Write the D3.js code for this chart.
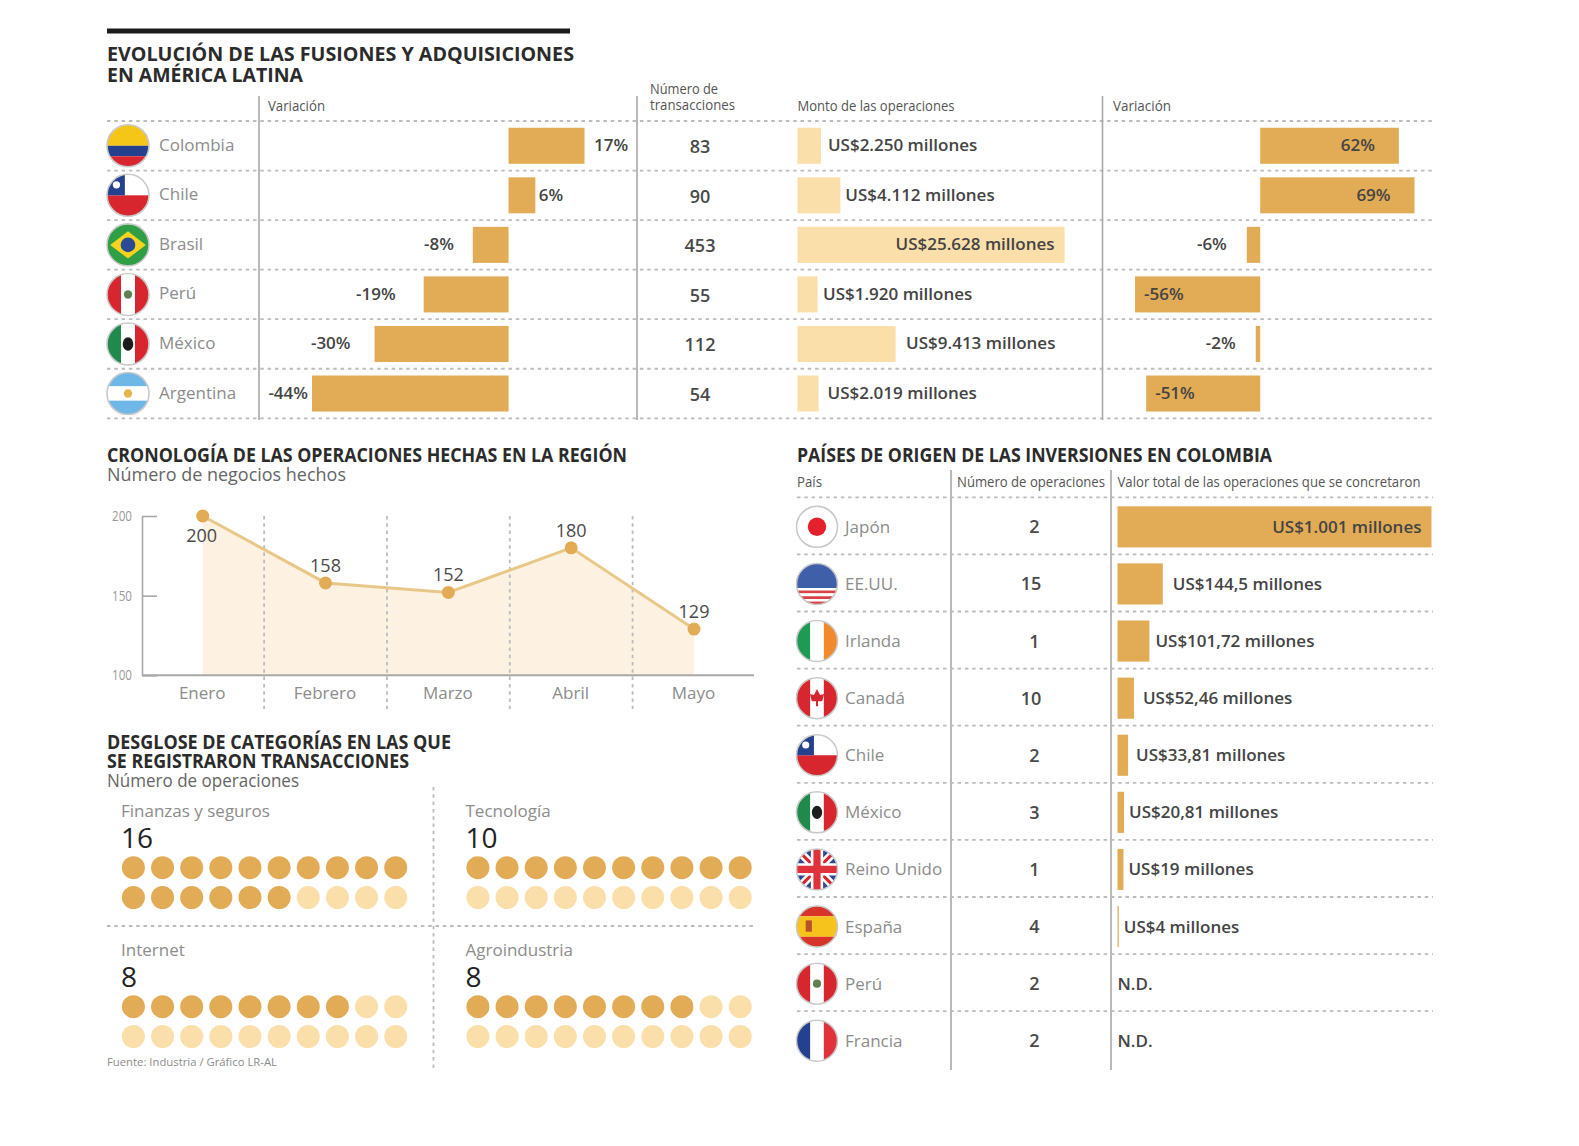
<!DOCTYPE html>
<html>
<head>
<meta charset="utf-8">
<script src="https://cdn.jsdelivr.net/npm/d3@7"></script>
<style>
body { margin: 0; background: #fff; }
svg { display: block; font-family: "Open Sans", sans-serif; }
.title { font-weight: 700; font-size: 19px; fill: #2b2b2b; }
.sub { font-size: 18px; fill: #666; }
.head { font-size: 15px; fill: #555; }
.name { font-size: 17px; fill: #8c8c8c; }
.big { font-size: 28px; fill: #222; }
.val { font-size: 17px; fill: #444; font-weight: 600; }
.num { font-size: 18px; fill: #4a4a4a; font-weight: 600; }
.grid { stroke: #bcbcbc; stroke-width: 1.8; stroke-dasharray: 3.5 3.8; fill: none; }
.rule { stroke: #a8a8a8; stroke-width: 1.6; }
</style>
</head>
<body>
<div id="viz"></div>
<script>
// Evolucion en America Latina
const paises = ['Colombia', 'Chile', 'Brasil', 'Perú', 'México', 'Argentina']
const variacionNegocios = [17, 6, -8, -19, -30, -44]
const transacciones = [83, 90, 453, 55, 112, 54]
const montos = [2250, 4112, 25628, 1920, 9413, 2019]
const variacionMontos = [62, 69, -6, -56, -2, -51]

// Cronologia
const meses = ['Enero', 'Febrero', 'Marzo', 'Abril', 'Mayo']
const negocios = [200, 158, 152, 180, 129]
const negociosTicks = [100, 150, 200]

// Categorias
const categorias = ['Finanzas y seguros', 'Tecnología', 'Internet', 'Agroindustria']
const operacionesCategoria = [16, 10, 8, 8]

// Paises de origen
const origenes = ['Japón', 'EE.UU.', 'Irlanda', 'Canadá', 'Chile', 'México', 'Reino Unido', 'España', 'Perú', 'Francia']
const operacionesOrigen = [2, 15, 1, 10, 2, 3, 1, 4, 2, 2]
const valorOrigen = [1001, 144.5, 101.72, 52.46, 33.81, 20.81, 19, 4, null, null]

const w = 1579, h = 1146
const gold = '#e2ab55', pale = '#fbdfaa'

const es = d3.formatLocale({ decimal: ',', thousands: '.', grouping: [3], currency: ['US$', ''] })
const fmt = es.format(',')
const usd = d => `US$${fmt(d)} millones`

const svg = d3.select('#viz')
    .append('svg')
    .attr('width', w)
    .attr('height', h)
    .attr('viewBox', [0, 0, w, h])

// text helper, width squeezes the text to the size it has in the original
const txt = (g, x, y, s, cls, width, anchor) => {
    const t = g.append('text')
        .attr('x', x)
        .attr('y', y)
        .attr('class', cls)
        .attr('text-anchor', anchor || 'start')
        .text(s)
    if (width) t.attr('textLength', width).attr('lengthAdjust', 'spacingAndGlyphs')
    return t
}
// several tight lines in one text element, lines = [string, class, y, width]
const block = (g, x, lines) => {
    const t = g.append('text')
    lines.forEach(([s, cls, y, width]) => {
        const sp = t.append('tspan').attr('x', x).attr('y', y).attr('class', cls).text(s)
        if (width) sp.attr('textLength', width).attr('lengthAdjust', 'spacingAndGlyphs')
    })
    return t
}
const hLine = (x1, x2, y) => svg.append('line').attr('class', 'grid')
    .attr('x1', x1).attr('x2', x2).attr('y1', y).attr('y2', y)
const vLine = (x, y1, y2, cls) => svg.append('line').attr('class', cls || 'rule')
    .attr('x1', x).attr('x2', x).attr('y1', y1).attr('y2', y2)

// flags are drawn in a 40x40 box centered on 0,0
const stripesH = (g, list) => {
    let y = -20
    list.forEach(([c, f]) => {
        g.append('rect').attr('x', -20).attr('y', y).attr('width', 40).attr('height', 40 * f).attr('fill', c)
        y += 40 * f
    })
}
const stripesV = (g, list) => list.forEach((c, i) => {
    g.append('rect').attr('x', -20 + i * 40 / 3).attr('y', -20).attr('width', 40 / 3 + .5).attr('height', 40).attr('fill', c)
})
const flags = {
    'Colombia': g => stripesH(g, [['#f5c518', .5], ['#24408e', .25], ['#d7262d', .25]]),
    'Chile': g => {
        stripesH(g, [['#fff', .5], ['#d8262e', .5]])
        g.append('rect').attr('x', -20).attr('y', -20).attr('width', 17).attr('height', 20).attr('fill', '#24408e')
        g.append('circle').attr('cx', -11).attr('cy', -10).attr('r', 3.5).attr('fill', '#fff')
    },
    'Brasil': g => {
        stripesH(g, [['#2f9e44', 1]])
        g.append('path').attr('d', 'M-17,0L0,-13L17,0L0,13Z').attr('fill', '#f6d31f')
        g.append('circle').attr('r', 7).attr('fill', '#2a4a94')
    },
    'Perú': g => {
        stripesV(g, ['#d8262e', '#fff', '#d8262e'])
        g.append('circle').attr('r', 4).attr('fill', '#5f7f54')
    },
    'México': g => {
        stripesV(g, ['#1f8a4c', '#fff', '#d8262e'])
        g.append('ellipse').attr('rx', 5).attr('ry', 6.5).attr('fill', '#1c1c1c')
    },
    'Argentina': g => {
        stripesH(g, [['#6fb7e6', .33], ['#fff', .34], ['#6fb7e6', .33]])
        g.append('circle').attr('r', 4).attr('fill', '#e8b64c')
    },
    'Japón': g => {
        stripesH(g, [['#fff', 1]])
        g.append('circle').attr('r', 9).attr('fill', '#e3202c')
    },
    'EE.UU.': g => stripesH(g, [['#3f5fa8', .6], ['#fff', .06], ['#d8434a', .07], ['#fff', .07], ['#d8434a', .07], ['#fff', .06], ['#d8434a', .07]]),
    'Irlanda': g => stripesV(g, ['#1f9a55', '#fff', '#f08a2c']),
    'Canadá': g => {
        stripesV(g, ['#d8262e', '#fff', '#d8262e'])
        g.append('path').attr('d', 'M0,-9L3,-3L7,-4L5,3L1,3L1,8L-1,8L-1,3L-5,3L-7,-4L-3,-3Z').attr('fill', '#d8262e')
    },
    'Reino Unido': g => {
        stripesH(g, [['#2b478f', 1]])
        g.append('path').attr('d', 'M-20,-20L20,20M20,-20L-20,20').attr('stroke', '#fff').attr('stroke-width', 8)
        g.append('path').attr('d', 'M-20,-20L20,20M20,-20L-20,20').attr('stroke', '#d8262e').attr('stroke-width', 3)
        g.append('path').attr('d', 'M0,-20V20M-20,0H20').attr('stroke', '#fff').attr('stroke-width', 12)
        g.append('path').attr('d', 'M0,-20V20M-20,0H20').attr('stroke', '#e0323a').attr('stroke-width', 7)
    },
    'España': g => {
        stripesH(g, [['#d8352a', .25], ['#f6c21c', .5], ['#d8352a', .25]])
        g.append('rect').attr('x', -11).attr('y', -6).attr('width', 6).attr('height', 11).attr('fill', '#b8502c')
    },
    'Francia': g => stripesV(g, ['#24408e', '#fff', '#e0323a'])
}
const drawFlag = (id, name, cx, cy, r) => {
    svg.append('clipPath').attr('id', id).append('circle').attr('r', 20)
    const outer = svg.append('g').attr('transform', `translate(${cx}, ${cy}) scale(${r / 20})`)
    const g = outer.append('g').attr('clip-path', `url(#${id})`)
    flags[name](g)
    outer.append('circle').attr('r', 20).attr('fill', 'none').attr('stroke', '#c9c9c9').attr('stroke-width', 1.5)
}

// ---- evolucion ----
svg.append('rect').attr('x', 107).attr('y', 28.5).attr('width', 463).attr('height', 5).attr('fill', '#1c1c1c')
block(svg, 107, [
    ['EVOLUCIÓN DE LAS FUSIONES Y ADQUISICIONES', 'title', 61, 467],
    ['EN AMÉRICA LATINA', 'title', 82, 196]
])

const yTop = d3.scaleBand()
    .domain(paises)
    .range([121, 418.3])
    .paddingInner(.273)
    .paddingOuter(.1365)
const rowTop = i => 121 + i * yTop.step()
d3.range(7).forEach(i => hLine(107, 1432, rowTop(i)))
;[259, 637, 1102.5].forEach(x => vLine(x, 96, 420))

txt(svg, 268, 111, 'Variación', 'head', 57)
block(svg, 650, [
    ['Número de', 'head', 94, 68],
    ['transacciones', 'head', 110, 85]
])
txt(svg, 797.5, 111, 'Monto de las operaciones', 'head', 157)
txt(svg, 1113, 111, 'Variación', 'head', 58)

paises.forEach((p, i) => {
    const cy = yTop(p) + yTop.bandwidth() / 2
    drawFlag(`top${i}`, p, 128, cy, 21)
    txt(svg, 159, cy + 5, p, 'name')
    txt(svg, 700, cy + 7.5, transacciones[i], 'num', null, 'middle')
})

// variacion negocios
const xVar = d3.scaleLinear().domain([-44, 17]).range([312, 584.5])
const varGap = [9.5, 3.5, 19, 28, 24, 4]
svg.append('g').selectAll('rect').data(variacionNegocios).join('rect')
    .attr('x', d => Math.min(xVar(0), xVar(d)))
    .attr('y', (d, i) => yTop(paises[i]))
    .attr('width', d => Math.abs(xVar(d) - xVar(0)))
    .attr('height', yTop.bandwidth())
    .attr('fill', gold)
variacionNegocios.forEach((d, i) => {
    const cy = yTop(paises[i]) + yTop.bandwidth() / 2
    txt(svg, xVar(d) + (d > 0 ? varGap[i] : -varGap[i]), cy + 5.5, `${d}%`, 'val', null, d > 0 ? 'start' : 'end')
})

// monto
const xMonto = d3.scaleLinear().domain([0, 25628]).range([797.5, 1064.6])
const montoGap = [7, 5, null, 5.5, 10.5, 9]
svg.append('g').selectAll('rect').data(montos).join('rect')
    .attr('x', xMonto(0))
    .attr('y', (d, i) => yTop(paises[i]))
    .attr('width', d => xMonto(d) - xMonto(0))
    .attr('height', yTop.bandwidth())
    .attr('fill', pale)
montos.forEach((d, i) => {
    const cy = yTop(paises[i]) + yTop.bandwidth() / 2
    if (montoGap[i] === null) txt(svg, xMonto(d) - 10, cy + 5.5, usd(d), 'val', null, 'end')
    else txt(svg, xMonto(d) + montoGap[i], cy + 5.5, usd(d), 'val')
})

// variacion montos
const xVar2 = d3.scaleLinear().domain([-56, 69]).range([1135, 1414.5])
svg.append('g').selectAll('rect').data(variacionMontos).join('rect')
    .attr('x', d => Math.min(xVar2(0), xVar2(d)))
    .attr('y', (d, i) => yTop(paises[i]))
    .attr('width', d => Math.abs(xVar2(d) - xVar2(0)))
    .attr('height', yTop.bandwidth())
    .attr('fill', gold)
variacionMontos.forEach((d, i) => {
    const cy = yTop(paises[i]) + yTop.bandwidth() / 2
    if (d > 0) txt(svg, xVar2(d) - 24, cy + 5.5, `${d}%`, 'val', null, 'end')
    else if (d < -40) txt(svg, xVar2(d) + 9, cy + 5.5, `${d}%`, 'val')
    else txt(svg, xVar2(d) - 20, cy + 5.5, `${d}%`, 'val', null, 'end')
})

// ---- cronologia ----
block(svg, 107, [
    ['CRONOLOGÍA DE LAS OPERACIONES HECHAS EN LA REGIÓN', 'title', 462, 520],
    ['Número de negocios hechos', 'sub', 481, 239]
])

const x = d3.scalePoint().domain(meses).range([202.7, 694])
const y = d3.scaleLinear().domain([100, 200]).range([675.3, 516])

const area = d3.area().x((d, i) => x(meses[i])).y0(y(100)).y1(d => y(d))
const line = d3.line().x((d, i) => x(meses[i])).y(d => y(d))

svg.append('path').datum(negocios).attr('d', area).attr('fill', '#fdf1e1')

meses.slice(0, -1).forEach(m => vLine(x(m) + x.step() / 2, 516, 709, 'grid'))

const yAxisG = svg.append('g')
    .attr('transform', 'translate(142, 0)')
    .call(d3.axisLeft(y).tickValues(negociosTicks).tickSizeInner(-15).tickSizeOuter(0).tickPadding(10))
yAxisG.select('.domain').attr('stroke', '#a8a8a8').attr('stroke-width', 1.6)
yAxisG.selectAll('line').attr('stroke', '#a8a8a8').attr('stroke-width', 1.6)
yAxisG.selectAll('text').attr('fill', '#999').style('font-size', '14px').style('font-family', '"Open Sans"').attr('textLength', 20).attr('lengthAdjust', 'spacingAndGlyphs')

const xAxisG = svg.append('g')
    .attr('transform', `translate(-1, ${y(100)})`)
    .call(d3.axisBottom(x).tickSize(0).tickPadding(12))
xAxisG.select('.domain').remove()
xAxisG.selectAll('text').attr('fill', '#8c8c8c').style('font-size', '17px').style('font-family', '"Open Sans"')
svg.append('line').attr('x1', 142).attr('x2', 754).attr('y1', y(100)).attr('y2', y(100))
    .attr('stroke', '#a8a8a8').attr('stroke-width', 2)

svg.append('path').datum(negocios).attr('d', line).attr('fill', 'none').attr('stroke', '#e7c888').attr('stroke-width', 3)
svg.append('g').selectAll('circle').data(negocios).join('circle')
    .attr('cx', (d, i) => x(meses[i]))
    .attr('cy', d => y(d))
    .attr('r', 6.5)
    .attr('fill', gold)
negocios.forEach((d, i) => {
    const off = i === 0 ? 26 : -11
    txt(svg, x(meses[i]) - (i === 0 ? 1 : 0), y(d) + off, d, 'sub', null, 'middle').style('fill', '#4a4a4a')
})

// ---- categorias ----
block(svg, 107, [
    ['DESGLOSE DE CATEGORÍAS EN LAS QUE', 'title', 749, 344],
    ['SE REGISTRARON TRANSACCIONES', 'title', 768, 302],
    ['Número de operaciones', 'sub', 787, 192]
])
vLine(433.5, 787, 1068, 'grid')
hLine(107, 754, 926)

const dotSlots = d3.range(20)
categorias.forEach((c, i) => {
    const px = i % 2 ? 344.5 : 0
    const py = i < 2 ? 0 : 139
    const g = svg.append('g').attr('transform', `translate(${px}, ${py})`)
    block(g, 121, [
        [c, 'name', 817],
        [operacionesCategoria[i], 'big', 848]
    ])
    const xDot = d3.scalePoint().domain(d3.range(10)).range([133.4, 395.7])
    g.selectAll('circle').data(dotSlots).join('circle')
        .attr('cx', d => xDot(d % 10))
        .attr('cy', d => d < 10 ? 867.7 : 897.5)
        .attr('r', 11.5)
        .attr('fill', d => d < operacionesCategoria[i] ? gold : pale)
})
txt(svg, 107, 1066, 'Fuente: Industria / Gráfico LR-AL', 'name', 170).style('font-size', '11px')

// ---- paises de origen ----
txt(svg, 797, 462, 'PAÍSES DE ORIGEN DE LAS INVERSIONES EN COLOMBIA', 'title', 475)
txt(svg, 797, 487, 'País', 'head', 25)
txt(svg, 957, 487, 'Número de operaciones', 'head', 148)
txt(svg, 1117.5, 487, 'Valor total de las operaciones que se concretaron', 'head', 303)
vLine(951, 470, 1070)
vLine(1111, 470, 1070)

const yOrigen = d3.scaleBand()
    .domain(origenes)
    .range([498.3, 1069.3])
    .paddingInner(.28)
    .paddingOuter(.14)
d3.range(10).forEach(i => hLine(797, 1433, 497.3 + i * yOrigen.step()))

const xOrigen = d3.scaleLinear().domain([0, 1001]).range([1117.5, 1431.5])
const origenGap = [null, 10, 6, 9, 8, 5, 5, 5]
origenes.forEach((o, i) => {
    const cy = yOrigen(o) + yOrigen.bandwidth() / 2
    drawFlag(`org${i}`, o, 817, cy, 20.5)
    txt(svg, 845, cy + 6, o, 'name')
    txt(svg, operacionesOrigen[i] >= 10 ? 1031 : 1034.5, cy + 6.5, operacionesOrigen[i], 'num', null, 'middle')
})
svg.append('g').selectAll('rect').data(valorOrigen.filter(d => d !== null)).join('rect')
    .attr('x', xOrigen(0))
    .attr('y', (d, i) => yOrigen(origenes[i]))
    .attr('width', d => xOrigen(d) - xOrigen(0))
    .attr('height', yOrigen.bandwidth())
    .attr('fill', gold)
valorOrigen.forEach((d, i) => {
    const cy = yOrigen(origenes[i]) + yOrigen.bandwidth() / 2
    if (d === null) txt(svg, xOrigen(0), cy + 6, 'N.D.', 'val')
    else if (origenGap[i] === null) txt(svg, xOrigen(d) - 10, cy + 6, usd(d), 'val', null, 'end')
    else txt(svg, xOrigen(d) + origenGap[i], cy + 6, usd(d), 'val')
})
</script>
</body>
</html>
